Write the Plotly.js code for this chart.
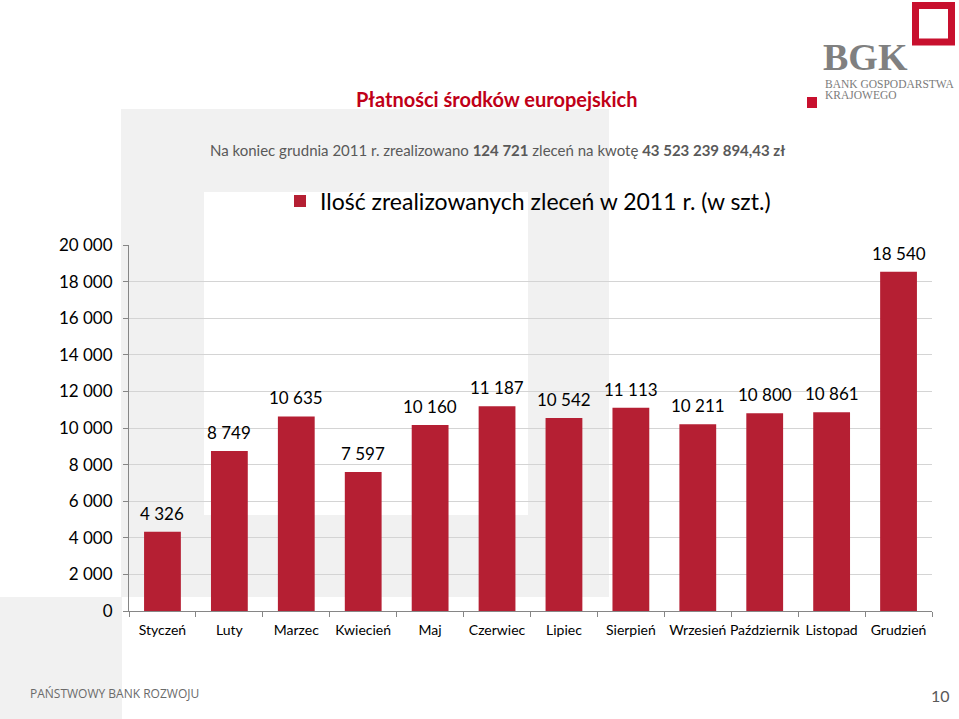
<!DOCTYPE html>
<html>
<head>
<meta charset="utf-8">
<script src="https://cdn.plot.ly/plotly-3.0.1.min.js"></script>
<style>html,body{margin:0;padding:0;background:#fff;}#chart{width:959px;height:719px;}</style>
</head>
<body>
<div id="chart"></div>
<script>
// ---- data ----
const categories = ['Styczeń','Luty','Marzec','Kwiecień','Maj','Czerwiec','Lipiec','Sierpień','Wrzesień','Październik','Listopad','Grudzień'];
const values = [4326, 8749, 10635, 7597, 10160, 11187, 10542, 11113, 10211, 10800, 10861, 18540];
const seriesName = 'Ilość zrealizowanych zleceń w 2011 r. (w szt.)';
const yTickValues = [0, 2000, 4000, 6000, 8000, 10000, 12000, 14000, 16000, 18000, 20000];
const titleText = 'Płatności środków europejskich';
const totalOrders = '124 721';
const totalAmount = '43 523 239 894,43 zł';
const footerText = 'PAŃSTWOWY BANK ROZWOJU';
const pageNumber = '10';

// ---- helpers ----
function fmt(v){ return String(v).replace(/\B(?=(\d{3})+(?!\d))/g, ' '); }
const L = 129, R = 932, T = 245, B = 611, W = 959, H = 719;
function px(x){ return (x - L) / (R - L); }
function py(y){ return (B - y) / (B - T); }

const RED = '#B51F33';
const FONT = 'Lato, "Open Sans", sans-serif';

const trace = {
  type: 'bar',
  x: categories,
  y: values,
  name: seriesName,
  marker: {color: RED},
  hoverinfo: 'skip',
  cliponaxis: false
};

const labelAnns = categories.map((c, i) => ({
  x: c, y: values[i], xref: 'x', yref: 'y',
  text: fmt(values[i]), showarrow: false,
  yanchor: 'bottom', yshift: 6,
  font: {family: FONT, size: 17, color: '#000'}
}));

const textAnns = [
  {xref:'paper', yref:'paper', x: px(497), y: py(99), xanchor:'center', yanchor:'middle', showarrow:false,
   text: '<b>' + titleText + '</b>', font:{family: FONT, size: 20, color:'#C00018'}},
  {xref:'paper', yref:'paper', x: px(497), y: py(150), xanchor:'center', yanchor:'middle', showarrow:false,
   text: 'Na koniec grudnia 2011 r. zrealizowano <b>' + totalOrders + '</b> zleceń na kwotę <b>' + totalAmount + '</b>',
   font:{family: FONT, size: 15, color:'#595959'}},
  {xref:'paper', yref:'paper', x: px(28), y: py(693), xanchor:'left', yanchor:'middle', showarrow:false,
   text: footerText, font:{family: '"Open Sans", sans-serif', size: 12, color:'#6a6a6a'}},
  {xref:'paper', yref:'paper', x: px(940), y: py(695), xanchor:'center', yanchor:'middle', showarrow:false,
   text: pageNumber, font:{family: FONT, size: 16, color:'#595959'}},
  // BGK logo texts
  {xref:'paper', yref:'paper', x: px(821), y: py(57), xanchor:'left', yanchor:'middle', showarrow:false,
   text: '<b>BGK</b>', font:{family: '"Liberation Serif", serif', size: 38, color:'#808080'}},
  {xref:'paper', yref:'paper', x: px(823), y: py(84), xanchor:'left', yanchor:'middle', showarrow:false,
   text: 'BANK GOSPODARSTWA', font:{family: '"Liberation Serif", serif', size: 11.5, color:'#7b7b7b'}},
  {xref:'paper', yref:'paper', x: px(823), y: py(95), xanchor:'left', yanchor:'middle', showarrow:false,
   text: 'KRAJOWEGO', font:{family: '"Liberation Serif", serif', size: 11.5, color:'#7b7b7b'}}
];

const GRAY = '#F1F1F1';
const shapes = [
  {type:'rect', xref:'paper', yref:'paper', layer:'below', x0: px(121), x1: px(609), y0: py(109), y1: py(597), fillcolor: GRAY, line:{width:0}},
  {type:'rect', xref:'paper', yref:'paper', layer:'below', x0: px(204), x1: px(528), y0: py(192), y1: py(515), fillcolor: '#FFFFFF', line:{width:0}},
  {type:'rect', xref:'paper', yref:'paper', layer:'below', x0: px(0), x1: px(122), y0: py(597), y1: py(719), fillcolor: GRAY, line:{width:0}},
  // logo red frame + small square
  {type:'rect', xref:'paper', yref:'paper', x0: px(915.5), x1: px(951.5), y0: py(5.5), y1: py(42), fillcolor:'rgba(0,0,0,0)', line:{width:7, color:'#C8102E'}},
  {type:'rect', xref:'paper', yref:'paper', x0: px(807), x1: px(817), y0: py(97), y1: py(108), fillcolor:'#C8102E', line:{width:0}}
];

const layout = {
  width: W, height: H,
  margin: {l: L, r: W - R, t: T, b: H - B, pad: 0},
  paper_bgcolor: '#FFFFFF',
  plot_bgcolor: 'rgba(0,0,0,0)',
  font: {family: FONT, color: '#000'},
  bargap: 0.45,
  showlegend: true,
  legend: {x: px(280), y: py(201), xanchor: 'left', yanchor: 'middle', orientation: 'h',
           font: {family: FONT, size: 23, color: '#000'}, bgcolor: 'rgba(0,0,0,0)'},
  xaxis: {type: 'category', showline: true, linecolor: '#868686', linewidth: 1,
          ticks: 'outside', tickson: 'boundaries', ticklen: 5, tickcolor: '#868686', tickangle: 0,
          tickfont: {family: FONT, size: 14, color: '#000'}, ticklabelstandoff: 6, showgrid: false, fixedrange: true},
  yaxis: {range: [0, 20000], tickmode: 'array', tickvals: yTickValues, ticktext: yTickValues.map(fmt),
          showline: true, linecolor: '#868686', linewidth: 1, ticks: 'outside', ticklen: 5, tickcolor: '#868686',
          showgrid: true, gridcolor: '#D4D4D4', gridwidth: 1, zeroline: false,
          tickfont: {family: FONT, size: 17, color: '#000'}, ticklabelstandoff: 7, fixedrange: true},
  annotations: labelAnns.concat(textAnns),
  shapes: shapes
};

Plotly.newPlot('chart', [trace], layout, {displayModeBar: false, staticPlot: true});
</script>
</body>
</html>
